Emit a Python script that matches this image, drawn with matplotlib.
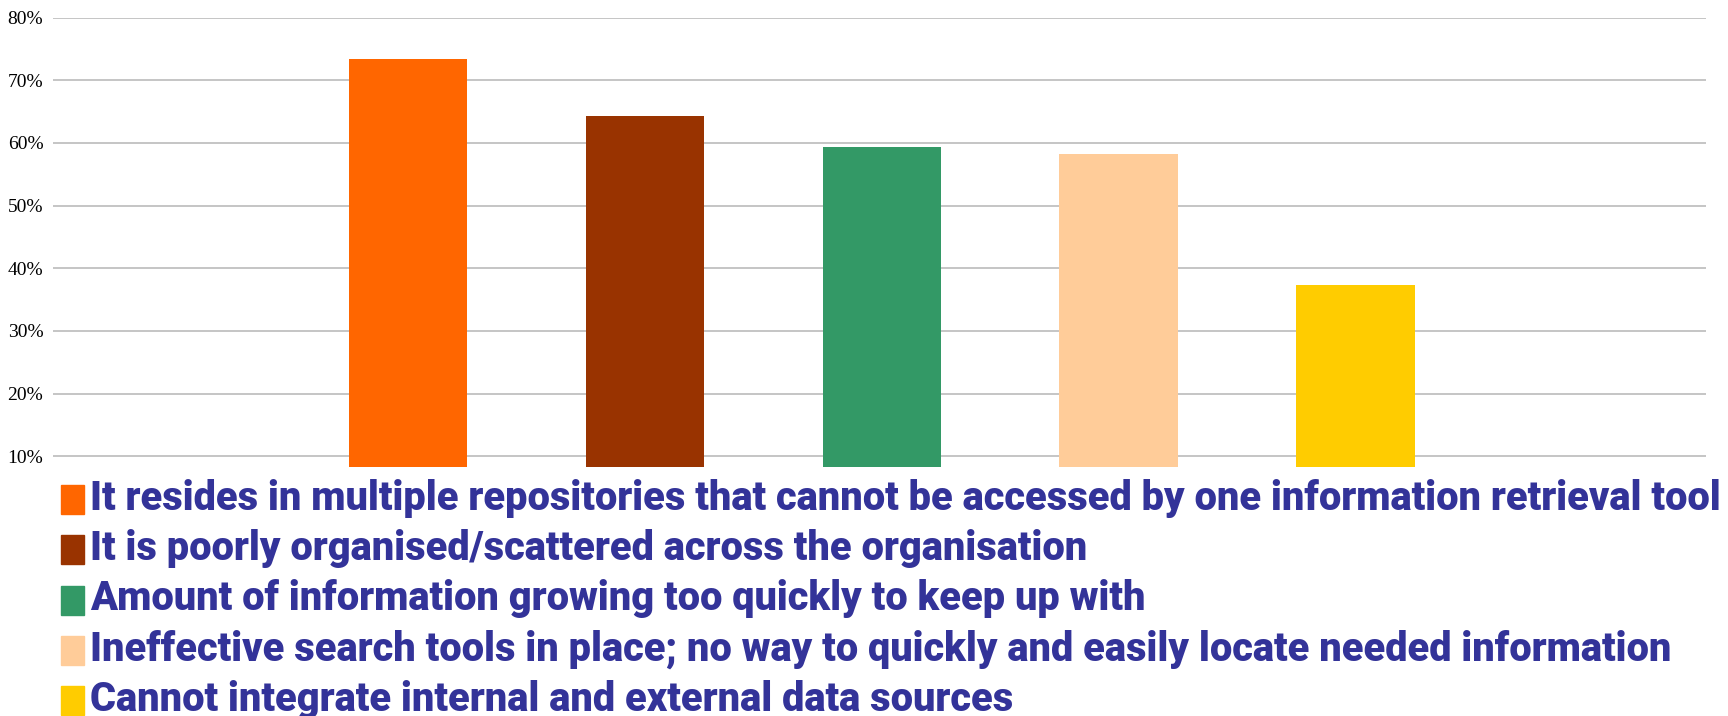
import matplotlib
matplotlib.use("Agg")
import matplotlib.pyplot as plt
from matplotlib.patches import Rectangle
from matplotlib.ticker import FuncFormatter

labels = [
    "It resides in multiple repositories that cannot be accessed by one information retrieval tool",
    "It is poorly organised/scattered across the organisation",
    "Amount of information growing too quickly to keep up with",
    "Ineffective search tools in place; no way to quickly and easily locate needed information",
    "Cannot integrate internal and external data sources",
]
values = [73.4, 64.3, 59.3, 58.3, 37.3]
colors = ["#FF6600", "#993300", "#339966", "#FFCC99", "#FFCC00"]
y_ticks = [10, 20, 30, 40, 50, 60, 70, 80]

W, H = 1728, 716
fig = plt.figure(figsize=(W / 100, H / 100), dpi=100)
ax = fig.add_axes([53 / W, 1 - 466.7 / H, (1706 - 53) / W, (466.7 - 17.5) / H])

x = list(range(len(values)))
ax.bar(x, values, width=0.5, color=colors, zorder=3)
ax.set_xlim(-1.5, 5.48)
ax.set_ylim(8.35, 80)
ax.set_yticks(y_ticks)
ax.yaxis.set_major_formatter(FuncFormatter(lambda v, p: f"{v:.0f}%"))
ax.set_xticks([])
ax.grid(axis="y", color="#C0C0C0", linewidth=1.3, zorder=0)
for s in ax.spines.values():
    s.set_visible(False)
ax.tick_params(axis="y", length=0, pad=7, labelsize=14)
for t in ax.get_yticklabels():
    t.set_family(["Liberation Serif", "DejaVu Serif"])

# legend
fam = ["Roboto", "DejaVu Sans"]
y0 = 485
step = 50.25
texts = []
for i, (lab, c) in enumerate(zip(labels, colors)):
    top = y0 + i * step
    fig.patches.append(Rectangle((61 / W, 1 - (top + 29) / H), 23 / W, 29 / H,
                                 transform=fig.transFigure, color=c))
    t = fig.text(90 / W, 1 - (top + 25) / H, lab, color="#333399",
                 fontsize=28, fontweight="black", family=fam, va="baseline", ha="left")
    texts.append(t)

fig.canvas.draw()
r = fig.canvas.get_renderer()
wmax = texts[0].get_window_extent(r).width
target = 1629
fs = 28 * target / wmax
fs = max(min(fs, 30), 24)
for t in texts:
    t.set_fontsize(fs)

fig.savefig("out.png", dpi=100)
